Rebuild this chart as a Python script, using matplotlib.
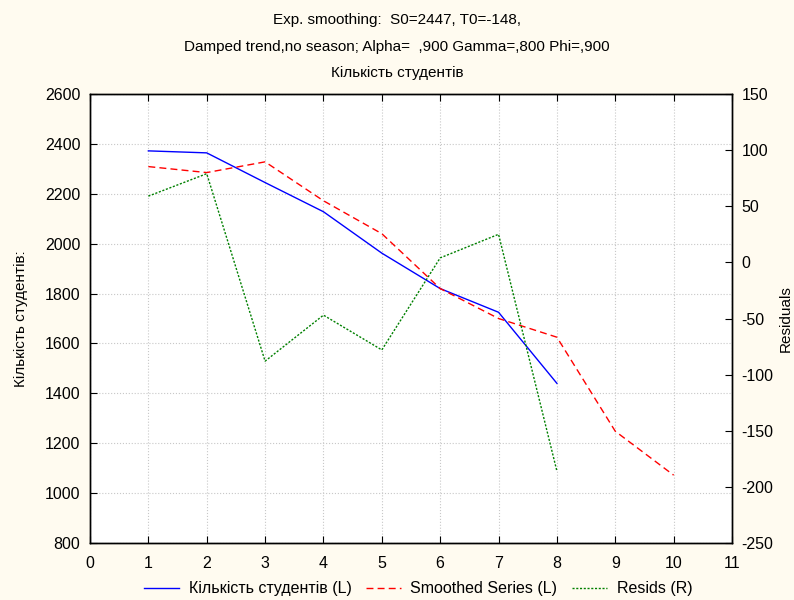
import matplotlib
matplotlib.use("Agg")
import matplotlib.pyplot as plt

plt.rcParams["font.family"] = ["Liberation Sans", "DejaVu Sans"]
plt.rcParams["axes.unicode_minus"] = False

# time index
periods = [1, 2, 3, 4, 5, 6, 7, 8]
periods_smooth = [1, 2, 3, 4, 5, 6, 7, 8, 9, 10]

students = [2372, 2364, 2245, 2128, 1962, 1820, 1725, 1440]
smoothed = [2309, 2285, 2328, 2172, 2040, 1820, 1700, 1625, 1248, 1072]
resids = [59, 79, -88, -47, -78, 4, 25, -186]

BG = "#fffbf0"

fig = plt.figure(figsize=(7.94, 6.0), dpi=100, facecolor=BG)
ax = fig.add_axes([90 / 794, 1 - 543 / 600, 642 / 794, 449 / 600])
ax.set_facecolor("white")
ax2 = ax.twinx()

l1, = ax.plot(periods, students, color="#0000ff", lw=1.0,
              label="Кількість студентів (L)")
l2, = ax.plot(periods_smooth, smoothed, color="#ff0000", lw=1.0,
              ls=(0, (5, 3)), label="Smoothed Series (L)")
l3, = ax2.plot(periods, resids, color="#008000", lw=1.0,
               ls=(0, (1.5, 1.2)), label="Resids (R)")

ax.set_xlim(0, 11)
ax.set_ylim(800, 2600)
ax2.set_ylim(-250, 150)
ax.set_xticks(range(0, 12))
ax.set_yticks(range(800, 2601, 200))
ax2.set_yticks(range(-250, 151, 50))

ax.grid(True, color="#c8c8c8", ls=":", lw=0.8)
ax.set_axisbelow(True)

for a in (ax, ax2):
    a.tick_params(direction="in", length=5, width=0.8, labelsize=11.5,
                  colors="black", pad=7)
    for s in a.spines.values():
        s.set_linewidth(1.0)
ax.tick_params(axis="x", top=True, pad=9)

ax.set_ylabel("Кількість студентів:", fontsize=11)
ax.yaxis.set_label_coords(-62 / 642, 0.5)
ax2.set_ylabel("Residuals", fontsize=11)
ax2.yaxis.set_label_coords((779 - 90) / 642, 0.5)

fig.text(0.5, 1 - 20 / 600, "Exp. smoothing:  S0=2447, T0=-148,",
         ha="center", va="center", fontsize=11)
fig.text(0.5, 1 - 47 / 600, "Damped trend,no season; Alpha=  ,900 Gamma=,800 Phi=,900",
         ha="center", va="center", fontsize=11)
fig.text(0.5, 1 - 73 / 600, "Кількість студентів",
         ha="center", va="center", fontsize=11)

fig.legend(handles=[l1, l2, l3], loc="center", bbox_to_anchor=(418 / 794, 1 - 589 / 600),
           ncol=3, frameon=False, fontsize=11.5, handlelength=2.2, columnspacing=0.9,
           handletextpad=0.6)

fig.savefig("out.png", dpi=100, facecolor=fig.get_facecolor())
